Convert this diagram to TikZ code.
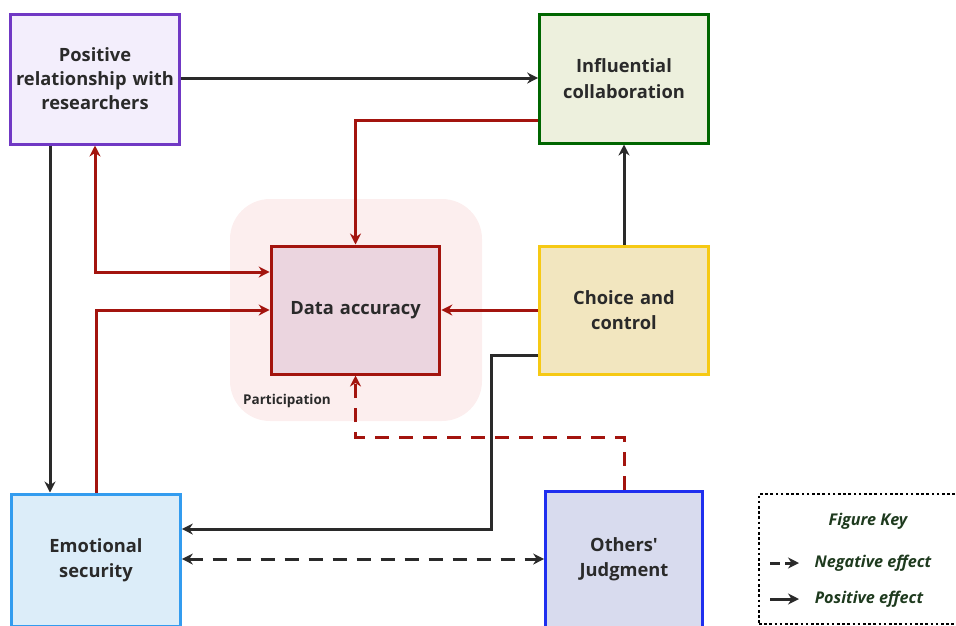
\documentclass[tikz,border=0pt]{standalone}
\usepackage{fontspec}
\setmainfont{Open Sans}
\newfontfamily\plainquote{Open Sans}[Ligatures=ResetAll]
\usetikzlibrary{arrows.meta,positioning}

\definecolor{inkgray}{HTML}{2A2A2A}
\definecolor{posred}{HTML}{A3140E}
\definecolor{keygreen}{HTML}{1E3A1E}

\begin{document}
\begin{tikzpicture}[
    x=1pt, y=-1pt,
    box/.style={draw, rectangle, line width=3pt, text width=162pt, align=center,
                font=\fontsize{18.3}{25.5}\selectfont\bfseries, text=inkgray},
    link/.style={line width=3pt, draw=inkgray, -{Stealth[length=11pt,width=11pt]}},
    redlink/.style={link, draw=posred},
    twoway/.style={{Stealth[length=11pt,width=11pt]}-{Stealth[length=11pt,width=11pt]}},
    neglink/.style={dash pattern=on 14pt off 10pt},
    keytext/.style={font=\fontsize{16.2}{19}\selectfont\bfseries\itshape, text=keygreen},
]
    \useasboundingbox (0,0) rectangle (956,625);

    % participation area
    \fill [fill={rgb,255:red,252;green,238;blue,238}, rounded corners=40pt] (230,199) rectangle (482,421);
    \node [font=\fontsize{13.5}{16}\selectfont\bfseries, text=inkgray] (part) at (287,401) {Participation};

    % boxes
    \node [box, draw={rgb,255:red,112;green,56;blue,196}, fill={rgb,255:red,243;green,238;blue,252}, minimum width=168pt, minimum height=130pt, font=\fontsize{18.3}{24}\selectfont\bfseries] (rel) at (95,79) {Positive\\relationship with\\researchers};
    \node [box, draw=green!40!black, fill={rgb,255:red,237;green,240;blue,221}, minimum width=166pt, minimum height=129pt] (collab) at (624,78.5) {Influential\\collaboration};
    \node [box, draw=posred, fill={rgb,255:red,235;green,213;blue,223}, minimum width=165pt, minimum height=128pt] (data) at (355.5,310) {Data accuracy};
    \node [box, draw={rgb,255:red,246;green,201;blue,20}, fill={rgb,255:red,242;green,230;blue,191}, minimum width=166pt, minimum height=128pt] (choice) at (624,310) {Choice and\\control};
    \node [box, draw={rgb,255:red,51;green,156;blue,239}, fill={rgb,255:red,220;green,237;blue,249}, minimum width=166pt, minimum height=132pt] (emo) at (96,560) {Emotional\\security};
    \node [box, draw={rgb,255:red,31;green,47;blue,239}, fill={rgb,255:red,216;green,219;blue,238}, minimum width=154pt, minimum height=136pt, text width=150pt] (others) at (624,559) {Others{\plainquote '}\\Judgment};

    % connectors
    \draw [link] (rel.east |- 0,78) -- (collab.west |- 0,78);
    \draw [redlink] (collab.west |- 0,120) -| (data.north);
    \draw [redlink, twoway] (rel.south) |- (data.west |- 0,272);
    \draw [redlink] (emo.north) |- (data.west);
    \draw [link] (rel.south -| 50,0) -- (emo.north -| 50,0);
    \draw [link] (choice.north) -- (collab.south);
    \draw [redlink] (choice.west) -- (data.east);
    \draw [link] (choice.west |- 0,355) -- (491,355) -- (491,529) -- (emo.east |- 0,529);
    \draw [link, neglink, twoway] (emo.east |- 0,559) -- (others.west |- 0,559);
    \draw [redlink, neglink] (others.north) |- (355.5,437) -- (data.south);

    % figure key
    \node [draw=black, line width=2.6pt, dash pattern=on 2.6pt off 2.6pt, minimum width=202pt, minimum height=130pt] (key) at (860,559) {};
    \node [keytext] (keytitle) at (868,521) {Figure Key};
    \node [keytext] (neg) at (873,563) {Negative effect};
    \node [keytext] (pos) at (869,599) {Positive effect};
    \coordinate (negstart) at (770,563);
    \coordinate (negend) at (799,563);
    \coordinate (posstart) at (770,599);
    \coordinate (posend) at (799,599);
    \draw [link, dash pattern=on 10pt off 5pt] (negstart) -- (negend);
    \draw [link] (posstart) -- (posend);

\end{tikzpicture}
\end{document}
